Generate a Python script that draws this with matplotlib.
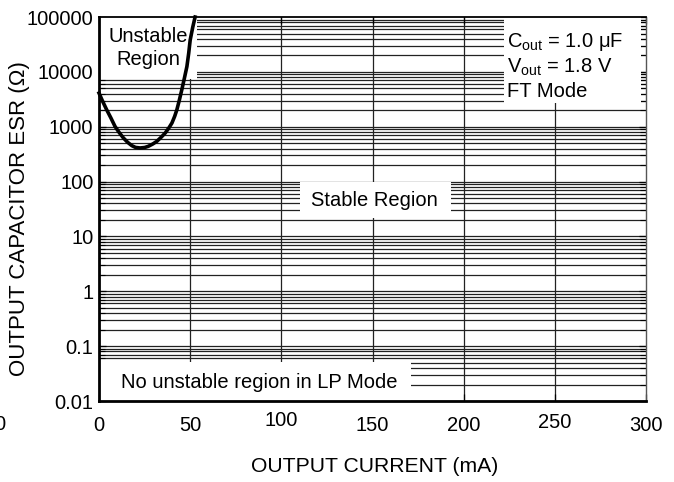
import matplotlib
matplotlib.use('Agg')
import matplotlib.pyplot as plt
import matplotlib.transforms as mtransforms
from matplotlib.patches import Rectangle
from matplotlib.ticker import FixedLocator, FixedFormatter, LogLocator, NullFormatter

plt.rcParams['font.family'] = ['Liberation Sans', 'DejaVu Sans']
plt.rcParams['mathtext.fontset'] = 'custom'
plt.rcParams['mathtext.rm'] = 'Liberation Sans'
plt.rcParams['mathtext.it'] = 'Liberation Sans:italic'

# boundary of the unstable region (FT mode)
current_ma = [0, 2, 4.2, 6.5, 8.8, 11, 13.4, 15.7, 18, 20, 22.5, 25, 27, 29.5,
              31.7, 34, 36.3, 38.3, 40, 41.5, 42.7, 44, 45.4, 46.8, 48.2, 49.2,
              50, 51.4, 52.7]
esr_ohm = [4100, 2900, 2040, 1450, 1010, 790, 623, 520, 452, 420, 410, 418, 439,
           485, 541, 640, 768, 950, 1170, 1550, 2040, 3000, 4710, 7600, 12500,
           22000, 38000, 65000, 100000]

x_ticks = [0, 50, 100, 150, 200, 250, 300]
x_tick_labels = ['0', '50', '100', '150', '200', '250', '300']
y_ticks = [0.01, 0.1, 1, 10, 100, 1000, 10000, 100000]
y_tick_labels = ['0.01', '0.1', '1', '10', '100', '1000', '10000', '100000']

FS = 14.5

fig = plt.figure(figsize=(6.74, 4.82), dpi=100)
ax = fig.add_axes([0.1469, 0.1680, 0.8116, 0.7967])
ax.set_yscale('log')
ax.set_xlim(0, 300)
ax.set_ylim(0.01, 100000)

# grid drawn by hand so the white label boxes can sit on top of it
for dec in y_ticks[:-1]:
    for m in range(1, 10):
        ax.axhline(m * dec, color='#222222', lw=0.9, zorder=1)
for xv in x_ticks[1:-1]:
    ax.axvline(xv, color='#222222', lw=0.9, zorder=1)

# white boxes behind the labels
boxes = [
    (0, 7400, 54, 100000),
    (222, 2730, 297.3, 100000),
    (110, 22, 193, 97),
    (0, 0.01, 171, 0.0512),
]
for x0, y0, x1, y1 in boxes:
    ax.add_patch(Rectangle((x0, y0), x1 - x0, y1 - y0, facecolor='white',
                           edgecolor='none', zorder=2))

ax.plot(current_ma, esr_ohm, color='black', lw=2.6, zorder=4, clip_on=False,
        solid_joinstyle='round')

ax.text(27, 27000, 'Unstable\nRegion', ha='center', va='center', fontsize=FS,
        linespacing=1.3, zorder=3)
ax.text(224, 12850, r'C$_{\mathregular{out}}$ = 1.0 μF' + '\n' +
        r'V$_{\mathregular{out}}$ = 1.8 V' + '\n' + 'FT Mode',
        ha='left', va='center', fontsize=FS, linespacing=1.25, zorder=3)
ax.text(151, 45, 'Stable Region', ha='center', va='center', fontsize=FS, zorder=3)
ax.text(88, 0.022, 'No unstable region in LP Mode', ha='center', va='center',
        fontsize=FS, zorder=3)

# axes styling
for side in ['left', 'bottom']:
    ax.spines[side].set_linewidth(2.0)
ax.spines['top'].set_linewidth(1.3)
ax.spines['right'].set_linewidth(1.0)
ax.spines['right'].set_color('#555555')

ax.yaxis.set_major_locator(FixedLocator(y_ticks))
ax.yaxis.set_major_formatter(FixedFormatter(y_tick_labels))
ax.yaxis.set_minor_locator(LogLocator(base=10, subs=range(2, 10), numticks=20))
ax.yaxis.set_minor_formatter(NullFormatter())
ax.set_xticks(x_ticks)
ax.set_xticklabels([])
ax.tick_params(which='both', direction='in', top=True, right=True,
               labelsize=FS, pad=4)
ax.tick_params(which='major', length=5, width=0.9)
ax.tick_params(which='minor', length=4, width=0.8)

# x tick labels sit a little unevenly in the original
trans = mtransforms.blended_transform_factory(ax.transData, ax.transAxes)
label_y = [-0.0625, -0.0625, -0.052, -0.0625, -0.0625, -0.055, -0.0625]
for xv, lab, yy in zip(x_ticks, x_tick_labels, label_y):
    ax.text(xv, yy, lab, transform=trans, ha='center', va='center', fontsize=FS)
fig.text(0.0, 1 - 425 / 482, '0', ha='center', va='center', fontsize=FS)

fig.text(375 / 674, 1 - 467 / 482, 'OUTPUT CURRENT (mA)', ha='center',
         va='center', fontsize=15.2)
fig.text(20 / 674, 1 - 219 / 482, 'OUTPUT CAPACITOR ESR (Ω)', ha='center',
         va='center', rotation=90, fontsize=16)

fig.savefig('out.png', dpi=100)
